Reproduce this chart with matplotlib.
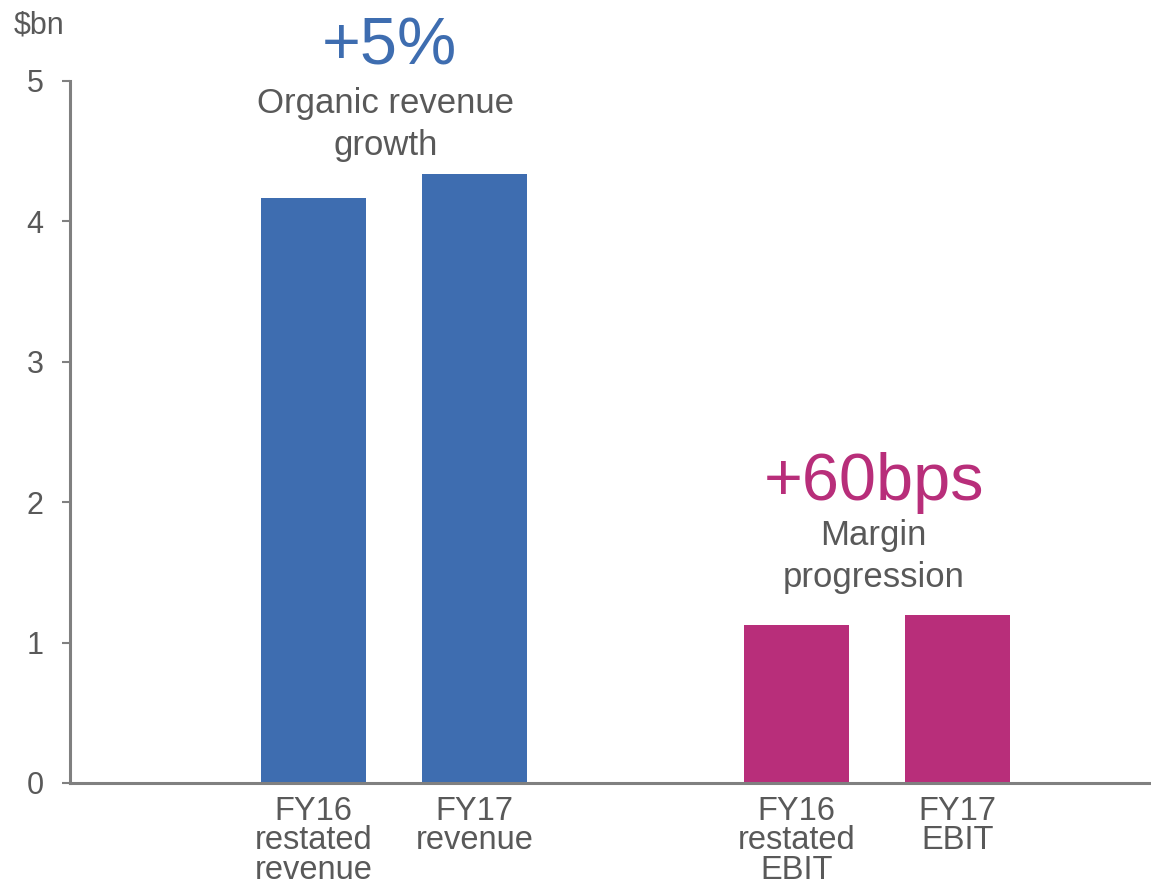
import matplotlib
matplotlib.use("Agg")
import matplotlib.pyplot as plt

plt.rcParams["font.family"] = ["Liberation Sans", "DejaVu Sans"]

categories = ["FY16\nrestated\nrevenue", "FY17\nrevenue", "FY16\nrestated\nEBIT", "FY17\nEBIT"]
values = [4.17, 4.34, 1.125, 1.2]
positions = [1.5, 2.5, 4.5, 5.5]

BLUE = "#3E6DB0"
MAGENTA = "#B82E7A"
GREY_TEXT = "#595959"
GREY_AXIS = "#808080"
bar_colors = [BLUE, BLUE, MAGENTA, MAGENTA]

fig = plt.figure(figsize=(11.51, 8.86), dpi=100)
ax = fig.add_axes([70 / 1151, 103 / 886, 1 - 70 / 1151, 702 / 886])

ax.bar(positions, values, width=0.652, color=bar_colors, zorder=2)

ax.set_xlim(-0.012, 6.702)
ax.set_ylim(0, 5)
ax.set_yticks(range(0, 6))
ax.tick_params(axis="y", direction="out", length=6, width=1.5, color=GREY_AXIS,
               labelsize=22, labelcolor=GREY_TEXT, pad=13)
ax.set_xticks(positions)
ax.set_xticklabels(categories, linespacing=0.94)
ax.tick_params(axis="x", length=0, labelsize=23.5, labelcolor=GREY_TEXT, pad=9)

for side in ["top", "right"]:
    ax.spines[side].set_visible(False)
for side in ["left", "bottom"]:
    ax.spines[side].set_color(GREY_AXIS)
    ax.spines[side].set_linewidth(2.2)

# unit label above the y axis
fig.text(14 / 1151, 1 - 33 / 886, "$bn", fontsize=22, color=GREY_TEXT, va="baseline", ha="left")

# growth call-outs above each pair of bars
ax.text(1.97, 5.114, "+5%", fontsize=48, color=BLUE, ha="center", va="baseline", clip_on=False)
ax.text(1.95, 4.473, "Organic revenue\ngrowth", fontsize=25, color=GREY_TEXT,
        ha="center", va="baseline", linespacing=1.33, clip_on=False)
ax.text(4.98, 2.016, "+60bps", fontsize=48, color=MAGENTA, ha="center", va="baseline")
ax.text(4.98, 1.396, "Margin\nprogression", fontsize=25, color=GREY_TEXT,
        ha="center", va="baseline", linespacing=1.33)

fig.savefig("out.png", dpi=100)
